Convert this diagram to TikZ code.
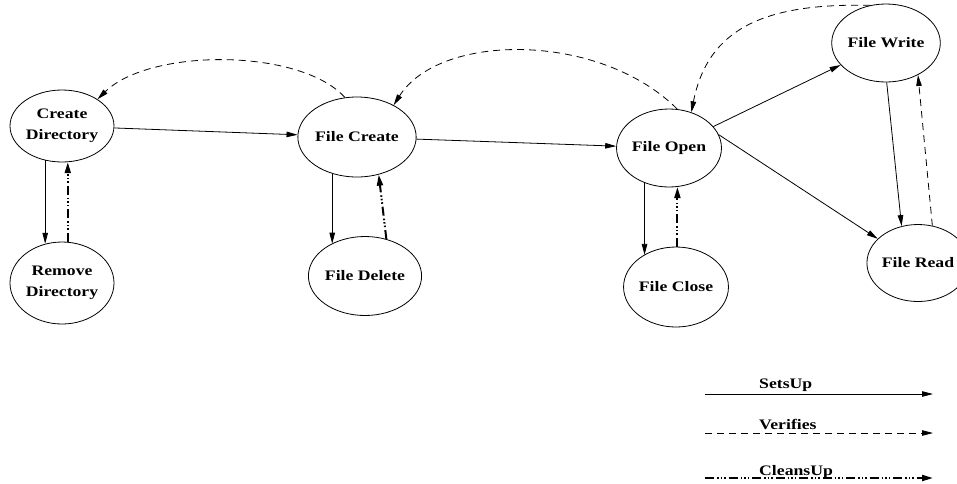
\documentclass[tikz,border=0pt]{standalone}
\usepackage{fontspec}
\setmainfont{Liberation Serif}[FakeStretch=1.22]
\usetikzlibrary{shapes.geometric,arrows.meta}

\begin{document}
\begin{tikzpicture}[x=1pt,y=-1pt,
  state/.style={ellipse, draw, line width=0.8pt, inner sep=0pt,
    minimum width=104pt, minimum height=78pt, align=center,
    font=\fontsize{14.5}{21}\selectfont\bfseries},
  setsup/.style={-{Triangle[length=11pt,width=5.5pt]}, line width=0.8pt},
  verifies/.style={-{Triangle[length=11pt,width=5.5pt]}, line width=0.8pt,
    dash pattern=on 7pt off 5pt},
  cleansup/.style={-{Triangle[length=11pt,width=6pt]}, line width=2pt,
    dash pattern=on 9pt off 3pt on 1.5pt off 2pt on 1.5pt off 2pt on 1.5pt off 3pt},
  legtext/.style={anchor=base west, inner sep=0pt,
    font=\fontsize{14.5}{16}\selectfont\bfseries}]

\useasboundingbox (0,0) rectangle (957,483);

% states
\node[state, minimum height=72pt] (cd) at (62,126) {Create\\Directory};
\node[state, minimum height=82pt] (rd) at (62,283) {Remove\\Directory};
\node[state, minimum height=80pt] (fc) at (357,137) {File Create};
\node[state, minimum width=102pt, minimum height=79pt] (fd) at (365,276) {File Delete};
\node[state] (fo) at (669,148) {File Open};
\node[state, minimum width=100pt, minimum height=80pt] (fcl) at (676,287) {File Close};
\node[state, minimum width=102pt] (fw) at (886,43) {File Write};
\node[state, minimum width=102pt, minimum height=77pt] (fr) at (918,263) {File Read};

% set-up relations
\draw[setsup] (cd) -- (fc);
\draw[setsup] (fc) -- (fo);
\draw[setsup] (fo) -- (fw);
\draw[setsup] (fo.15) -- (fr.149);
\draw[setsup] (fw.-89) -- (fr.114);
\draw[setsup] (cd.-116) -- (cd.-116 |- rd.113);
\draw[setsup] (fc.-124) -- (fc.-124 |- fd.136);
\draw[setsup] (fo.-125) -- (fo.-125 |- fcl.135);

% verification relations
\draw[verifies] (fr.69) -- (fw.-45);
\draw[verifies] (fw.113) .. controls (765,3) and (708,28) .. (fo.58);
\draw[verifies] (fo.78) .. controls (600,32) and (440,32) .. (fc.41);
\draw[verifies] (fc.107) .. controls (300,48) and (150,48) .. (cd.37);

% clean-up relations
\draw[cleansup] (rd.82) -- (rd.82 |- cd.-81);
\draw[cleansup] (fd.60) -- (fc.-60);
\draw[cleansup] (fcl.88) -- (fcl.88 |- fo.-80);

% legend
\coordinate (la) at (705,394);
\coordinate (lb) at (933,394);
\coordinate (lc) at (705,433);
\coordinate (ld) at (933,433);
\coordinate (le) at (705,478);
\coordinate (lf) at (933,478);
\draw[setsup] (la) -- (lb);
\draw[verifies] (lc) -- (ld);
\draw[cleansup] (le) -- (lf);
\node[legtext] (ta) at (759,388) {SetsUp};
\node[legtext] (tb) at (759,429) {Verifies};
\node[legtext] (tc) at (759,475) {CleansUp};
\end{tikzpicture}
\end{document}
